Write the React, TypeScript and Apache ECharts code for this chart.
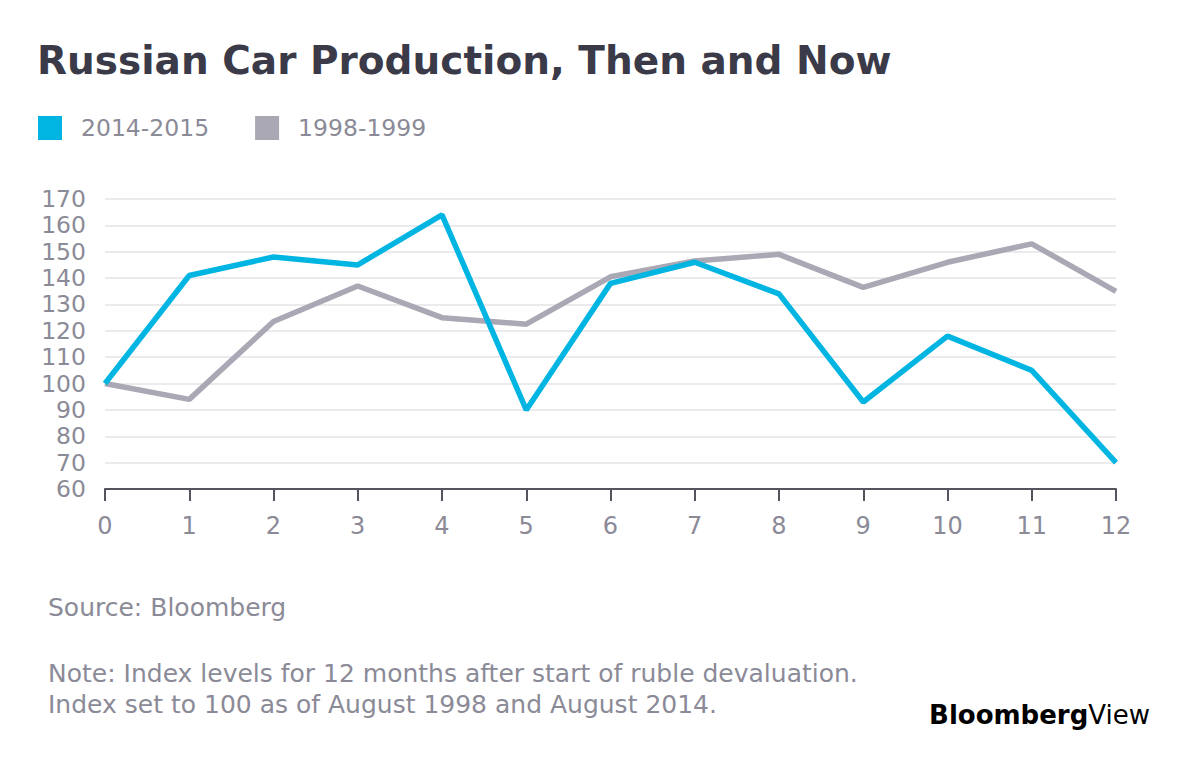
import React, { useEffect, useRef } from "react";
import * as echarts from "echarts";

const months = [0, 1, 2, 3, 4, 5, 6, 7, 8, 9, 10, 11, 12];
const series2014 = [100, 141, 148, 145, 164, 90, 138, 146, 134, 93, 118, 105, 70];
const series1998 = [100, 94, 123.5, 137, 125, 122.5, 140.5, 146.5, 149, 136.5, 146, 153, 135];
const seriesNames = ["2014-2015", "1998-1999"];
const colors = ["#00b5e2", "#a9a8b4"];

const TEXT_GRAY = "#8b8a97";
const FONT = "'DejaVu Sans', 'Noto Sans', sans-serif";

export default function App() {
  const ref = useRef<HTMLDivElement>(null);
  useEffect(() => {
    document.body.style.margin = "0";
    if (!ref.current) return;
    const chart = echarts.init(ref.current, undefined, { renderer: "svg" });
    chart.setOption({
      animation: false,
      backgroundColor: "#ffffff",
      textStyle: { fontFamily: FONT },
      title: {
        text: "Russian Car Production, Then and Now",
        left: 37,
        top: 41,
        padding: 0,
        textStyle: { fontFamily: FONT, fontSize: 39, fontWeight: "bold", color: "#3b3a48" },
      },
      legend: {
        left: 38,
        top: 116,
        padding: 0,
        icon: "rect",
        itemWidth: 24,
        itemHeight: 24,
        itemGap: 46,
        data: seriesNames,
        textStyle: { fontFamily: FONT, fontSize: 23.5, color: TEXT_GRAY, padding: [0, 0, 0, 14] },
      },
      grid: { left: 105, right: 84, top: 199, bottom: 293, containLabel: false },
      xAxis: {
        type: "value",
        min: 0,
        max: 12,
        interval: 1,
        axisLine: { show: true, lineStyle: { color: "#55545e", width: 2 } },
        axisTick: { show: true, length: 12, lineStyle: { color: "#55545e", width: 2 } },
        axisLabel: { color: TEXT_GRAY, fontSize: 24, margin: 25, fontFamily: FONT },
        splitLine: { show: false },
      },
      yAxis: {
        type: "value",
        min: 60,
        max: 170,
        interval: 10,
        axisLine: { show: false },
        axisTick: { show: false },
        axisLabel: { color: TEXT_GRAY, fontSize: 23.5, lineHeight: 22, margin: 19, fontFamily: FONT },
        splitLine: { show: true, lineStyle: { color: "#ebebee", width: 2 } },
      },
      series: [
        {
          name: seriesNames[1],
          type: "line",
          data: months.map((m, i) => [m, series1998[i]]),
          showSymbol: false,
          symbol: "none",
          lineStyle: { color: colors[1], width: 5.5 },
          itemStyle: { color: colors[1] },
        },
        {
          name: seriesNames[0],
          type: "line",
          data: months.map((m, i) => [m, series2014[i]]),
          showSymbol: false,
          symbol: "none",
          lineStyle: { color: colors[0], width: 5.5 },
          itemStyle: { color: colors[0] },
        },
      ],
      graphic: [
        {
          type: "text",
          left: 48,
          top: 595,
          style: { text: "Source: Bloomberg", fontFamily: FONT, fontSize: 25, fill: TEXT_GRAY },
        },
        {
          type: "text",
          left: 48,
          top: 658,
          style: {
            text: "Note: Index levels for 12 months after start of ruble devaluation.\nIndex set to 100 as of August 1998 and August 2014.",
            fontFamily: FONT,
            fontSize: 25,
            lineHeight: 31,
            fill: TEXT_GRAY,
          },
        },
        {
          type: "text",
          right: 50,
          top: 702,
          style: {
            rich: {
              b: { fontFamily: FONT, fontSize: 26, fontWeight: "bold", color: "#111111" },
              v: { fontFamily: FONT, fontSize: 26, fontWeight: "normal", color: "#1fa9e1" },
            },
            text: "{b|Bloomberg}{v|View}",
          },
        },
      ],
    });
    return () => chart.dispose();
  }, []);
  return <div ref={ref} style={{ width: 1200, height: 782 }} />;
}
